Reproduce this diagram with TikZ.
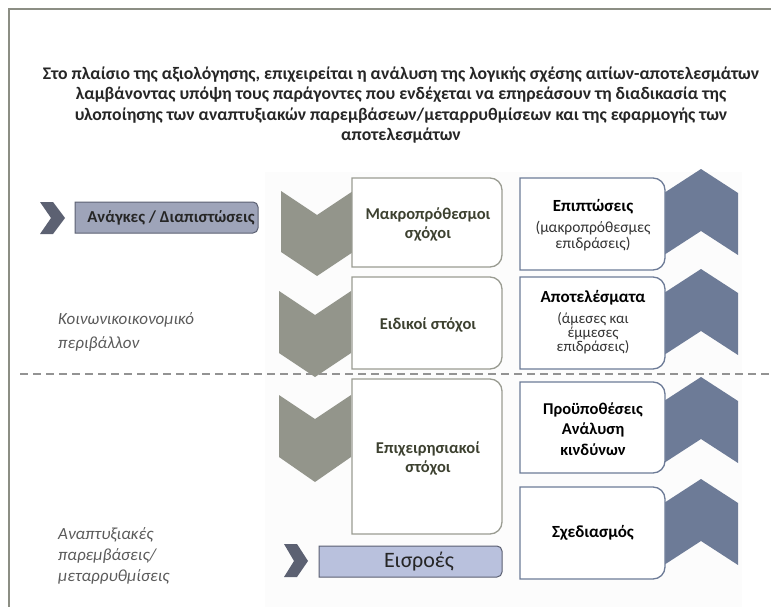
\documentclass[tikz,border=0pt]{standalone}
\usepackage{fontspec}
\setmainfont{Carlito}
\usetikzlibrary{positioning}
\definecolor{framegray}{HTML}{8C8E84}
\definecolor{chevgray}{HTML}{93958B}
\definecolor{chevblue}{HTML}{6D7B97}
\definecolor{chevdark}{HTML}{5C6172}
\definecolor{goalline}{HTML}{9A9C92}
\definecolor{goalink}{HTML}{3D4130}
\definecolor{needfill}{HTML}{9EA4B9}
\definecolor{infill}{HTML}{B9C1DD}
\definecolor{boxline}{HTML}{5B6072}
\definecolor{sidegray}{HTML}{5A5A5A}
\tikzset{
  downchev/.style={fill=chevgray},
  upchev/.style={fill=chevblue},
  smallchev/.style={fill=chevdark},
  goalbox/.style={draw=goalline, line width=1.3pt, fill=white},
  effbox/.style={draw=chevblue, line width=1.3pt, fill=white},
  needbox/.style={draw=boxline, line width=1pt, fill=needfill},
  inbox/.style={draw=boxline, line width=1pt, fill=infill},
  goaltxt/.style={font=\fontsize{16.5}{19}\selectfont\bfseries, text=goalink, align=center, inner sep=0pt},
  effhead/.style={font=\fontsize{17}{20.5}\selectfont\bfseries, align=center, inner sep=0pt},
  effnote/.style={font=\fontsize{15.5}{16.5}\selectfont, text=black!80, align=center, inner sep=0pt},
  sidetxt/.style={font=\fontsize{17}{22}\selectfont\itshape, text=sidegray, align=left, anchor=west, inner sep=0pt},
}
\begin{document}
\begin{tikzpicture}[x=1pt, y=-1pt]
\useasboundingbox (0,0) rectangle (771,607);
% frame and background
\fill[gray!2] (265,172) rectangle (742,607);
\draw[framegray, line width=2pt] (9,607) -- (9,9.5) -- (771,9.5);
\node[font=\fontsize{17.7}{20.5}\selectfont\bfseries, text=black!85, align=center] (title) at (401,105)
  {Στο πλαίσιο της αξιολόγησης, επιχειρείται η ανάλυση της λογικής σχέσης αιτίων-αποτελεσμάτων\\
   λαμβάνοντας υπόψη τους παράγοντες που ενδέχεται να επηρεάσουν τη διαδικασία της\\
   υλοποίησης των αναπτυξιακών παρεμβάσεων/μεταρρυθμίσεων και της εφαρμογής των\\
   αποτελεσμάτων};
\draw[gray!85, line width=1.3pt, dash pattern=on 8pt off 5pt] (20,374) -- (771,374);

% chevrons downwards
\fill[downchev] (281,191) -- (317,215) -- (353,191) -- (353,252) -- (317,276) -- (281,252) -- cycle;
\fill[downchev] (279,291) -- (315,315) -- (351,291) -- (351,353) -- (315,377) -- (279,353) -- cycle;
\fill[downchev] (279,395) -- (315,419) -- (351,395) -- (351,457) -- (315,482) -- (279,457) -- cycle;
% chevrons upwards
\foreach \a in {169,269,377,479}
  \fill[upchev] (701,\a) -- (738,\a+24) -- (738,\a+86) -- (701,\a+62) -- (664,\a+86) -- (664,\a+24) -- cycle;
% small chevrons
\fill[smallchev] (40,202) -- (53,202) -- (65,218) -- (53,234) -- (40,234) -- (51,218) -- cycle;
\fill[smallchev] (284,544) -- (297,544) -- (308,561) -- (297,577) -- (284,577) -- (294,561) -- cycle;

% goal boxes
\draw[goalbox] (352,267) -- (352,178) [rounded corners=12pt] -- (502,178) -- (502,267) [sharp corners] -- cycle;
\draw[goalbox] (352,369) -- (352,277) [rounded corners=12pt] -- (502,277) -- (502,369) [sharp corners] -- cycle;
\draw[goalbox] (352,534) -- (352,379) [rounded corners=12pt] -- (502,379) -- (502,534) [sharp corners] -- cycle;
\node[goaltxt] (longgoal) at (428,224) {Μακροπρόθεσμοι\\σχόχοι};
\node[goaltxt] (specgoal) at (428,325) {Ειδικοί στόχοι};
\node[goaltxt] (opgoal) at (428,458) {Επιχειρησιακοί\\στόχοι};

% effect boxes
\draw[effbox] (520,270) -- (520,178) [rounded corners=12pt] -- (665,178) -- (665,270) [sharp corners] -- cycle;
\draw[effbox] (520,369) -- (520,277) [rounded corners=12pt] -- (665,277) -- (665,369) [sharp corners] -- cycle;
\draw[effbox] (520,473) -- (520,382) [rounded corners=12pt] -- (665,382) -- (665,473) [sharp corners] -- cycle;
\draw[effbox] (520,579) -- (520,487) [rounded corners=12pt] -- (665,487) -- (665,579) [sharp corners] -- cycle;
\node[effhead] (impact) at (593,207) {Επιπτώσεις};
\node[effnote] (impactnote) at (593,236) {(μακροπρόθεσμες\\επιδράσεις)};
\node[effhead] (results) at (593,298) {Αποτελέσματα};
\node[effnote, font=\fontsize{15}{13.8}\selectfont] (resultsnote) at (593,333) {(άμεσες και\\έμμεσες\\επιδράσεις)};
\node[effhead, font=\fontsize{16.5}{20.5}\selectfont\bfseries] (risks) at (593,429) {Προϋποθέσεις\\Ανάλυση\\κινδύνων};
\node[effhead] (design) at (593,533) {Σχεδιασμός};

% needs and inputs
\draw[needbox] (75,233) -- (75,202) [rounded corners=5pt] -- (258,202) -- (258,233) [sharp corners] -- cycle;
\node[font=\fontsize{16.7}{19}\selectfont\bfseries, text=black!85] (needs) at (171,218) {Ανάγκες / Διαπιστώσεις};
\draw[inbox] (319,577) -- (319,546) [rounded corners=5pt] -- (502,546) -- (502,577) [sharp corners] -- cycle;
\node[font=\fontsize{22}{24}\selectfont, text=black!85] (inputs) at (419,561.5) {Εισροές};

% side labels
\node[sidetxt, font=\fontsize{17}{24}\selectfont\itshape] (socio) at (58,332) {Κοινωνικοικονομικό\\περιβάλλον};
\node[sidetxt, font=\fontsize{17}{21}\selectfont\itshape] (devint) at (58,556) {Αναπτυξιακές\\παρεμβάσεις/\\μεταρρυθμίσεις};
\end{tikzpicture}
\end{document}
